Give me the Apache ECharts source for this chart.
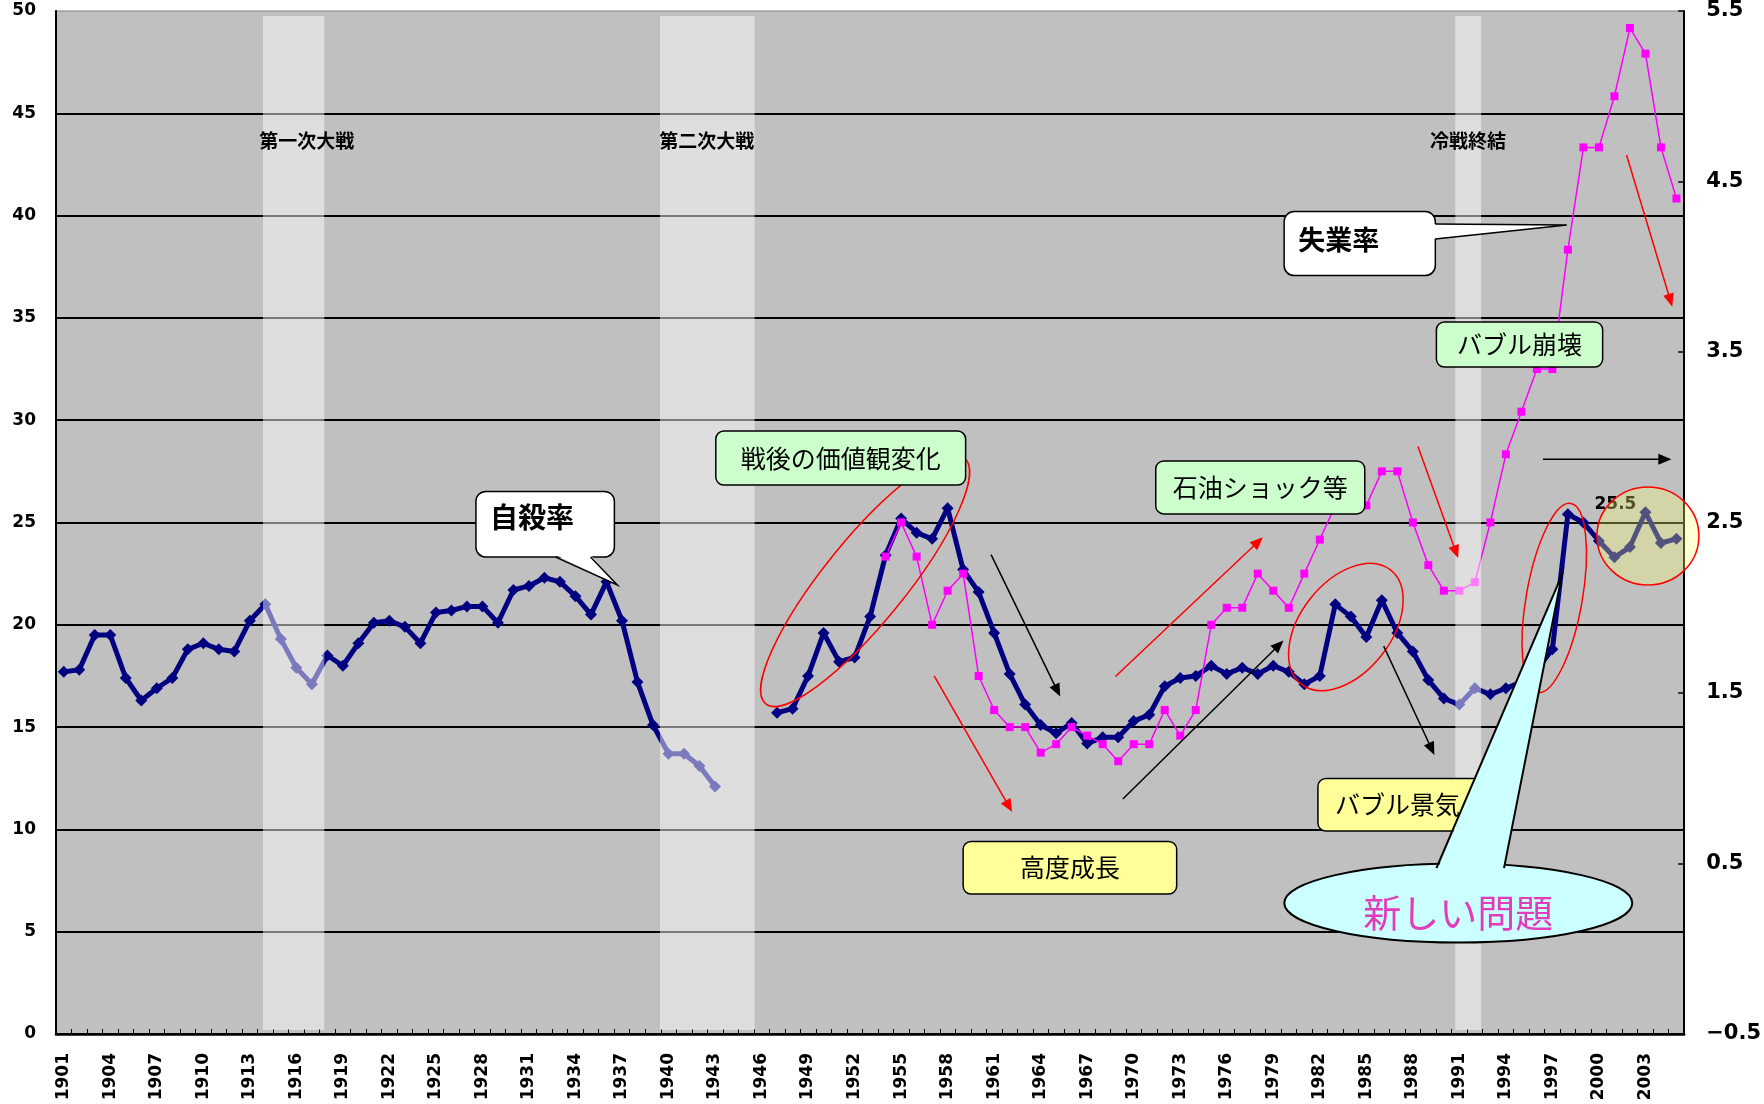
<!DOCTYPE html>
<html>
<head>
<meta charset="utf-8">
<script src="https://cdn.jsdelivr.net/npm/echarts@6/dist/echarts.min.js"></script>
<style>
  html, body { margin: 0; padding: 0; background: #ffffff; }
  #chart { width: 1764px; height: 1104px; }
</style>
</head>
<body>
<div id="chart"></div>
<script>
// Years on the category axis, 1901–2005
const years = Array.from({ length: 105 }, (_, i) => String(1901 + i));

// Suicide rate (per 100,000), pre-war run 1901–1943
const suicidePreWar = [
  17.7, 17.8, 19.5, 19.5, 17.4, 16.3, 16.9, 17.4, 18.8, 19.1,
  18.8, 18.7, 20.2, 21.0, 19.3, 17.9, 17.1, 18.5, 18.0, 19.1,
  20.1, 20.2, 19.9, 19.1, 20.6, 20.7, 20.9, 20.9, 20.1, 21.7,
  21.9, 22.3, 22.1, 21.4, 20.5, 22.1, 20.2, 17.2, 15.1, 13.7,
  13.7, 13.1, 12.1
];
const preWarStart = 1901;

// Suicide rate (per 100,000), post-war run 1947–2005
const suicidePostWar = [
  15.7, 15.9, 17.5, 19.6, 18.2, 18.4, 20.4, 23.4, 25.2, 24.5,
  24.2, 25.7, 22.7, 21.6, 19.6, 17.6, 16.1, 15.1, 14.7, 15.2,
  14.2, 14.5, 14.5, 15.3, 15.6, 17.0, 17.4, 17.5, 18.0, 17.6,
  17.9, 17.6, 18.0, 17.7, 17.1, 17.5, 21.0, 20.4, 19.4, 21.2,
  19.6, 18.7, 17.3, 16.4, 16.1, 16.9, 16.6, 16.9, 17.2, 17.8,
  18.8, 25.4, 25.0, 24.1, 23.3, 23.8, 25.5, 24.0, 24.2
];
const postWarStart = 1947;

// Unemployment rate (%), 1954–2005, right-hand axis
const unemployment = [
  2.3, 2.5, 2.3, 1.9, 2.1, 2.2, 1.6, 1.4, 1.3, 1.3,
  1.15, 1.2, 1.3, 1.25, 1.2, 1.1, 1.2, 1.2, 1.4, 1.25,
  1.4, 1.9, 2.0, 2.0, 2.2, 2.1, 2.0, 2.2, 2.4, 2.6,
  2.7, 2.6, 2.8, 2.8, 2.5, 2.25, 2.1, 2.1, 2.15, 2.5,
  2.9, 3.15, 3.4, 3.4, 4.1, 4.7, 4.7, 5.0, 5.4, 5.25,
  4.7, 4.4
];
const unemploymentStart = 1954;

// Tick labels
const rateTicks = [0, 5, 10, 15, 20, 25, 30, 35, 40, 45, 50];
const unemploymentTicks = [-0.5, 0.5, 1.5, 2.5, 3.5, 4.5, 5.5];
const labelledYears = ['2003'];

// Shaded periods (in years) with their captions
const periods = [
  { name: '第一次大戦', from: 1913.85, to: 1917.8, labelAt: 1916.67 },
  { name: '第二次大戦', from: 1939.45, to: 1945.55, labelAt: 1942.47 },
  { name: '冷戦終結', from: 1990.74, to: 1992.4, labelAt: 1991.55 }
];
const periodTop = 49.76, periodBottom = 0.2, periodLabelLevel = 43.65;

function alignToYears(values, startYear) {
  return years.map(y => {
    const k = Number(y) - startYear;
    return k >= 0 && k < values.length ? values[k] : null;
  });
}
const preAligned = alignToYears(suicidePreWar, preWarStart);
const postAligned = alignToYears(suicidePostWar, postWarStart);
const suicideSeries = years.map((y, i) => (preAligned[i] !== null ? preAligned[i] : postAligned[i]));
const unemploymentSeries = alignToYears(unemployment, unemploymentStart);

const NAVY = '#000080';
const MAGENTA = '#ff00ff';
const JP = '"Noto Sans CJK JP", "Noto Sans CJK SC", sans-serif';

const chart = echarts.init(document.getElementById('chart'), null, { renderer: 'canvas' });

const option = {
  backgroundColor: '#ffffff',
  animation: false,
  grid: {
    left: 56, right: 72, top: 11, bottom: 70,
    show: true, backgroundColor: '#c0c0c0', borderColor: '#808080', borderWidth: 1
  },
  xAxis: [
    {
      type: 'category',
      data: years,
      boundaryGap: true,
      axisLine: { lineStyle: { color: '#000', width: 2.5 } },
      axisTick: { show: true, inside: true, length: 5, interval: 0, lineStyle: { color: '#000', width: 1 } },
      axisLabel: {
        interval: 2, rotate: 90, margin: 19,
        fontSize: 17, fontWeight: 'bold', fontFamily: 'DejaVu Sans', color: '#000'
      },
      splitLine: { show: false }
    },
    { type: 'value', min: 1900.5, max: 2005.5, show: false }
  ],
  yAxis: [
    {
      type: 'value', min: rateTicks[0], max: rateTicks[rateTicks.length - 1], interval: 5,
      position: 'left',
      axisLine: { show: true, lineStyle: { color: '#000', width: 2 } },
      axisTick: { show: false },
      axisLabel: { margin: 20, fontSize: 17, fontWeight: 'bold', fontFamily: 'DejaVu Sans', color: '#000' },
      splitLine: { show: true, showMaxLine: false, lineStyle: { color: '#000', width: 2 } }
    },
    {
      type: 'value', min: unemploymentTicks[0], max: unemploymentTicks[unemploymentTicks.length - 1],
      position: 'right',
      axisLine: { show: true, lineStyle: { color: '#000', width: 2 } },
      axisTick: { show: true, inside: true, length: 6, customValues: unemploymentTicks, lineStyle: { color: '#000', width: 1.5 } },
      axisLabel: {
        customValues: unemploymentTicks, margin: 22,
        fontSize: 21, fontWeight: 'bold', fontFamily: 'DejaVu Sans', color: '#000',
        formatter: v => (v < 0 ? '\u2212' + Math.abs(v).toFixed(1) : v.toFixed(1))
      },
      splitLine: { show: false }
    }
  ],
  series: [
    {
      name: '自殺率',
      type: 'line',
      xAxisIndex: 0, yAxisIndex: 0,
      data: suicideSeries,
      connectNulls: false,
      showAllSymbol: true,
      symbol: 'diamond', symbolSize: 12,
      lineStyle: { color: NAVY, width: 5 },
      itemStyle: { color: NAVY },
      label: {
        show: true, position: 'left', distance: 3, offset: [0, -8],
        fontSize: 17, fontWeight: 'bold', fontFamily: 'DejaVu Sans', color: '#000',
        formatter: p => (labelledYears.includes(p.name) ? String(p.value) : '')
      },
      z: 2
    },
    {
      name: '失業率',
      type: 'line',
      xAxisIndex: 0, yAxisIndex: 1,
      data: unemploymentSeries,
      connectNulls: false,
      showAllSymbol: true,
      symbol: 'rect', symbolSize: 8,
      lineStyle: { color: MAGENTA, width: 1.5 },
      itemStyle: { color: MAGENTA },
      z: 2
    },
    {
      name: 'periods',
      type: 'custom',
      xAxisIndex: 1, yAxisIndex: 0,
      silent: true,
      z: 3,
      data: periods.map(p => [p.from, p.to, periodTop]),
      encode: { x: [0, 1], y: 2 },
      renderItem: (params, api) => {
        const p = periods[params.dataIndex];
        const a = api.coord([p.from, periodTop]);
        const b = api.coord([p.to, periodBottom]);
        const l = api.coord([p.labelAt, periodLabelLevel]);
        return {
          type: 'group',
          children: [
            { type: 'rect', shape: { x: a[0], y: a[1], width: b[0] - a[0], height: b[1] - a[1] },
              style: { fill: 'rgba(255,255,255,0.48)' } },
            { type: 'text', x: l[0], y: l[1],
              style: { text: p.name, font: 'bold 19px ' + JP, fill: '#000',
                       align: 'center', verticalAlign: 'middle', textAlign: 'center', textVerticalAlign: 'middle' } }
          ]
        };
      }
    }
  ]
};
chart.setOption(option);

// ---- Annotations, anchored in (year, suicide-rate) space ----
const P = (yr, v) => chart.convertToPixel({ xAxisIndex: 1, yAxisIndex: 0 }, [yr, v]);

const rings = [
  { at: [1952.68, 22.14], rx: 158, ry: 41, angle: 51, fill: 'none' },
  { at: [1983.68, 19.89], rx: 72.5, ry: 45.5, angle: 52, fill: 'none' },
  { at: [1997.12, 21.31], rx: 96, ry: 28, angle: 80, fill: 'none' }
];
const highlightRing = { at: [2003.16, 24.34], rx: 51, ry: 49, angle: 0, fill: 'rgba(255,255,122,0.32)' };

const arrows = [
  { from: [1960.8, 23.43], to: [1965.26, 16.49], color: '#000' },
  { from: [1957.13, 17.5], to: [1962.16, 10.85], color: '#ff0000' },
  { from: [1968.82, 17.47], to: [1978.33, 24.28], color: '#ff0000' },
  { from: [1969.3, 11.49], to: [1979.66, 19.23], color: '#000' },
  { from: [1986.12, 18.96], to: [1989.39, 13.64], color: '#000' },
  { from: [1988.33, 28.72], to: [1990.92, 23.26], color: '#ff0000' },
  { from: [1996.39, 28.09], to: [2004.67, 28.09], color: '#000' },
  { from: [2001.78, 42.96], to: [2004.73, 35.55], color: '#ff0000' }
];

const labelBoxes = [
  { text: '戦後の価値観変化', from: [1943.05, 29.47], to: [1959.16, 26.83], fill: '#ccffcc' },
  { text: '石油ショック等', from: [1971.42, 28.01], to: [1984.9, 25.42], fill: '#ccffcc' },
  { text: 'バブル崩壊', from: [1989.52, 34.8], to: [2000.24, 32.6], fill: '#ccffcc' },
  { text: '高度成長', from: [1959.0, 9.41], to: [1972.77, 6.84], fill: '#ffff99' },
  { text: 'バブル景気', from: [1981.88, 12.49], to: [1992.54, 9.92], fill: '#ffff99', padLeft: 17 }
];

const bubbles = [
  { text: '自殺率', from: [1927.58, 26.52], to: [1936.51, 23.31], font: 'bold 28px ' + JP,
    pad: [14, 26], base: [[1932.72, 23.31], [1934.97, 23.31]], inset: [0, -2], tip: [1936.7, 21.95] },
  { text: '失業率', from: [1979.7, 40.2], to: [1989.45, 37.07], font: 'bold 27px ' + JP,
    pad: [14, 28.5], base: [[1989.45, 39.59], [1989.45, 38.86]], inset: [-2, 0], tip: [1997.93, 39.54] }
];

const issueCallout = {
  text: '新しい問題', at: [1990.93, 6.4], rx: 174, ry: 39.5,
  base: [[1989.52, 8.11], [1993.88, 8.11]], tip: [1997.61, 22.43]
};

const els = [];
let order = 0;
const add = el => { el.z = 100; el.z2 = order++; el.silent = true; els.push(el); };

function ring(r, stroke) {
  const c = P(r.at[0], r.at[1]);
  add({ type: 'ellipse', x: c[0], y: c[1], rotation: r.angle * Math.PI / 180,
        shape: { cx: 0, cy: 0, rx: r.rx, ry: r.ry },
        style: { fill: r.fill, stroke: stroke, lineWidth: 1.5 } });
}
function arrow(a) {
  const s = P(a.from[0], a.from[1]), e = P(a.to[0], a.to[1]);
  const dx = e[0] - s[0], dy = e[1] - s[1], len = Math.hypot(dx, dy);
  const ux = dx / len, uy = dy / len, hl = 13, hw = 5.5;
  const bx = e[0] - ux * hl, by = e[1] - uy * hl;
  add({ type: 'line', shape: { x1: s[0], y1: s[1], x2: bx + ux, y2: by + uy },
        style: { stroke: a.color, lineWidth: 1.5 } });
  add({ type: 'polygon', shape: { points: [e, [bx - uy * hw, by + ux * hw], [bx + uy * hw, by - ux * hw]] },
        style: { fill: a.color } });
}
function textAt(x, y, text, font, fill, align) {
  add({ type: 'text', x: x, y: y,
        style: { text: text, font: font, fill: fill, align: align, verticalAlign: 'middle',
                 textAlign: align, textVerticalAlign: 'middle' } });
}
function labelBox(b) {
  const p0 = P(b.from[0], b.from[1]), p1 = P(b.to[0], b.to[1]);
  add({ type: 'rect', shape: { x: p0[0], y: p0[1], width: p1[0] - p0[0], height: p1[1] - p0[1], r: 8 },
        style: { fill: b.fill, stroke: '#000', lineWidth: 1.5 } });
  const cy = (p0[1] + p1[1]) / 2;
  if (b.padLeft) textAt(p0[0] + b.padLeft, cy, b.text, '25px ' + JP, '#000', 'left');
  else textAt((p0[0] + p1[0]) / 2, cy, b.text, '25px ' + JP, '#000', 'center');
}
function bubble(b) {
  const p0 = P(b.from[0], b.from[1]), p1 = P(b.to[0], b.to[1]);
  const b1 = P(b.base[0][0], b.base[0][1]), b2 = P(b.base[1][0], b.base[1][1]);
  const t = P(b.tip[0], b.tip[1]);
  add({ type: 'rect', shape: { x: p0[0], y: p0[1], width: p1[0] - p0[0], height: p1[1] - p0[1], r: 10 },
        style: { fill: '#ffffff', stroke: '#000', lineWidth: 1.5 } });
  add({ type: 'polygon',
        shape: { points: [[b1[0] + b.inset[0], b1[1] + b.inset[1]], t, [b2[0] + b.inset[0], b2[1] + b.inset[1]]] },
        style: { fill: '#ffffff' } });
  add({ type: 'polyline', shape: { points: [b1, t, b2] }, style: { stroke: '#000', lineWidth: 1.5 } });
  textAt(p0[0] + b.pad[0], p0[1] + b.pad[1], b.text, b.font, '#000', 'left');
}
function issue(c) {
  const ctr = P(c.at[0], c.at[1]);
  const b1 = P(c.base[0][0], c.base[0][1]), b2 = P(c.base[1][0], c.base[1][1]);
  const t = P(c.tip[0], c.tip[1]);
  add({ type: 'ellipse', shape: { cx: ctr[0], cy: ctr[1], rx: c.rx, ry: c.ry },
        style: { fill: '#ccffff', stroke: '#000', lineWidth: 2 } });
  add({ type: 'polygon', shape: { points: [[b1[0], b1[1] + 4], t, [b2[0], b2[1] + 4]] },
        style: { fill: '#ccffff' } });
  add({ type: 'polyline', shape: { points: [b1, t, b2] }, style: { stroke: '#000', lineWidth: 2 } });
  textAt(ctr[0], ctr[1] + 10, c.text, '38px ' + JP, '#e03cbc', 'center');
}

rings.forEach(r => ring(r, '#ff0000'));
arrows.forEach(arrow);
labelBoxes.forEach(labelBox);
bubbles.forEach(bubble);
ring(highlightRing, '#ff0000');
issue(issueCallout);

chart.setOption({ graphic: { elements: els } });
</script>
</body>
</html>
